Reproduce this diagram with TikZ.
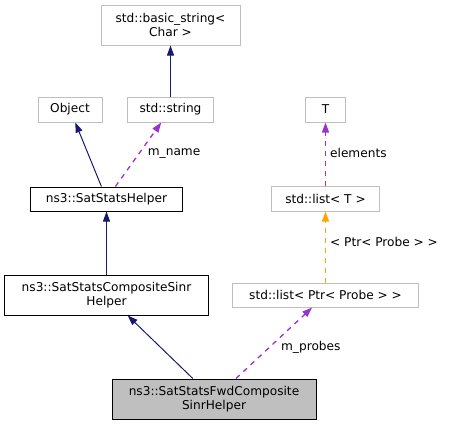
\documentclass[tikz,border=0pt]{standalone}
\usepackage{fontspec}
\setmainfont{DejaVu Sans}
\usetikzlibrary{arrows.meta}
\definecolor{edgeblue}{HTML}{191970}
\definecolor{edgepurple}{HTML}{9A32CD}
\definecolor{edgeorange}{HTML}{FFA500}
\definecolor{boxgray}{HTML}{BFBFBF}

\begin{document}
\begin{tikzpicture}[x=1bp,y=-1bp,
    every node/.style={font=\fontsize{12.2}{14.5}\selectfont,align=center,
        inner sep=0pt},
    extcls/.style={draw=boxgray,line width=1bp,minimum height=25bp},
    doccls/.style={draw=black,line width=1bp,minimum height=25bp},
    inherit/.style={edgeblue,line width=1bp,
        -{Triangle[length=10bp,width=7bp]}},
    usage/.style={edgepurple,line width=1.3bp,dash pattern=on 5bp off 5bp,
        -{Triangle[length=10bp,width=7bp]}},
    tmpl/.style={edgeorange,line width=1.3bp,dash pattern=on 5bp off 5bp,
        -{Triangle[length=10bp,width=7bp]}},
    elabel/.style={anchor=west,inner sep=1bp,text=black}]
    \useasboundingbox (0,0) rectangle (451,425);

    \node[extcls,minimum width=139bp,minimum height=40bp] (bstring)
        at (170.5,25) {std::basic\_string<\\Char >};
    \node[extcls,minimum width=64bp] (object) at (70,109.5) {Object};
    \node[extcls,minimum width=86bp] (string) at (170.5,109.5) {std::string};
    \node[extcls,minimum width=40bp] (tparam) at (325.5,109.5) {T};
    \node[doccls,minimum width=151bp,minimum height=24bp] (helper)
        at (106.5,199) {ns3::SatStatsHelper};
    \node[extcls,minimum width=108bp] (listT) at (325.5,198.5) {std::list< T >};
    \node[doccls,minimum width=203bp,minimum height=40bp] (composite)
        at (106.5,295) {ns3::SatStatsCompositeSinr\\Helper};
    \node[extcls,minimum width=186bp,minimum height=24bp] (listProbe)
        at (325.5,295) {std::list< Ptr< Probe > >};
    \node[doccls,fill=boxgray,minimum width=204bp,minimum height=40bp] (fwd)
        at (214,399) {ns3::SatStatsFwdComposite\\SinrHelper};

    \draw[inherit] (string) -- (bstring);
    \draw[inherit] (helper) -- (object);
    \draw[usage] (helper) -- node[elabel,pos=.52,xshift=7bp] {m\_name} (string);
    \draw[usage] (listT) -- node[elabel,pos=.52,xshift=3bp] {elements} (tparam);
    \draw[tmpl] (listProbe) -- node[elabel,pos=.57,xshift=3bp]
        {< Ptr< Probe > >} (listT);
    \draw[inherit] (composite) -- (helper);
    \draw[inherit] (fwd) -- (composite);
    \draw[usage] (fwd) -- node[elabel,pos=.44,xshift=10bp] {m\_probes} (listProbe);

\end{tikzpicture}
\end{document}
